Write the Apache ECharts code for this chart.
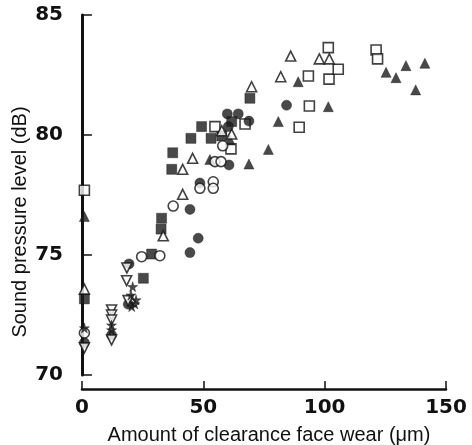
<!DOCTYPE html>
<html><head><meta charset="utf-8">
<script src="https://cdn.jsdelivr.net/npm/echarts@6/dist/echarts.min.js"></script>
<style>html,body{margin:0;padding:0;background:#fff}#c{width:472px;height:445px}</style>
</head><body><div id="c"></div>
<script>
// Data: [wear (µm), sound pressure level (dB)]
const filledSquare = [[1,73.17],[25.3,74.03],[28.7,75.04],[32.6,76.08],[32.8,76.53],[37.0,78.57],[37.4,79.26],[44.9,79.86],[49.3,80.35],[53.2,79.86],[57.6,79.96],[61.7,80.56],[69.2,81.53]];
const openSquare = [[1,77.7],[54.8,80.35],[61.4,79.42],[67.2,80.46],[89.5,80.32],[93.7,81.21],[93.3,82.46],[101.8,82.33],[101.5,83.64],[105.6,82.74],[121.2,83.54],[121.8,83.17]];
const filledTriangle = [[1,76.6],[52.7,78.98],[61,79.79],[68.8,78.79],[76.8,79.4],[80.9,80.56],[89.1,82.22],[101.5,81.18],[125.3,82.61],[129.4,82.39],[133.5,82.89],[137.5,81.88],[141.3,82.99]];
const openTriangle = [[1,73.58],[33.5,75.8],[41.5,77.53],[41.5,78.57],[45.6,79.03],[57.6,80.18],[61.7,80.04],[69.9,82.01],[81.9,82.43],[86.0,83.29],[97.8,83.17],[101.9,83.17]];
const filledCircle = [[1,71.35],[12.2,71.67],[19.4,74.63],[19.1,72.95],[44.5,75.1],[47.9,75.7],[44.5,76.9],[48.6,78.0],[60.6,78.75],[60.3,80.35],[59.9,80.88],[64.4,80.88],[68.8,80.58],[84.3,81.24]];
const openCircle = [[1,71.75],[24.6,74.93],[32.1,74.97],[37.6,77.04],[48.6,77.78],[54.1,78.05],[54.1,77.78],[54.8,78.89],[57.3,78.89],[58,79.55]];
const openInvTriangle = [[1,71.13],[12.2,72.71],[12.2,72.5],[12.2,72.29],[12.2,71.46],[18.5,74.46],[18.4,73.93],[19,73.1]];
const filledStar = [[1,71.96],[12.2,72.08],[12.2,71.88],[20.9,73.68],[20.2,73.33],[22.3,73.13],[21.8,72.96],[20.5,72.85]];
const xTicks = [0,50,100,150];
const yTicks = [70,75,80,85];
const xTitle = 'Amount of clearance face wear (μm)';
const yTitle = 'Sound pressure level (dB)';

const INK = '#111';
const STAR = 'path://M50,0 L61,35 L98,35 L68,57 L79,91 L50,70 L21,91 L32,57 L2,35 L39,35 Z';
function mk(data, symbol, filled, size, rot) {
  return {
    type: 'scatter', xAxisIndex: 0, yAxisIndex: 0, data: data,
    symbol: symbol, symbolSize: size, symbolRotate: rot || 0,
    itemStyle: filled ? {color: '#1c1c1c', borderColor: INK, borderWidth: 0.5}
                      : {color: '#fff', borderColor: INK, borderWidth: 1.6},
    emphasis: {disabled: true}, animation: false
  };
}
const lblFont = {fontFamily: 'DejaVu Sans', fontWeight: 'bold', fontSize: 20, color: INK};
const chart = echarts.init(document.getElementById('c'), null, {renderer: 'canvas'});
chart.setOption({
  backgroundColor: '#fff',
  animation: false,
  grid: [
    {left: 72, right: 26, top: 15, bottom: 70},
    {left: 82, right: 26, top: 300, bottom: 56}
  ],
  xAxis: [
    {gridIndex: 0, type: 'value', min: -4.1, max: 150, show: false},
    {gridIndex: 1, type: 'value', min: xTicks[0], max: xTicks[xTicks.length-1], interval: 50,
     axisLine: {lineStyle: {color: INK, width: 2.5}},
     axisTick: {inside: true, length: 8, lineStyle: {color: INK, width: 1.5}},
     splitLine: {show: false},
     axisLabel: Object.assign({margin: 9}, lblFont)}
  ],
  yAxis: [
    {gridIndex: 0, type: 'value', min: yTicks[0], max: yTicks[yTicks.length-1], interval: 5,
     axisLine: {lineStyle: {color: INK, width: 3}},
     axisTick: {inside: true, length: 10, lineStyle: {color: INK, width: 1.5}},
     splitLine: {show: false},
     axisLabel: Object.assign({margin: 9}, lblFont)},
    {gridIndex: 1, type: 'value', show: false}
  ],
  graphic: [
    {type: 'text', x: 269, y: 435, style: {text: xTitle, font: '20px "Liberation Sans"', fill: INK, textAlign: 'center', textVerticalAlign: 'middle'}},
    {type: 'text', x: 20, y: 222, rotation: Math.PI/2, style: {text: yTitle, font: '20px "Liberation Sans"', fill: INK, textAlign: 'center', textVerticalAlign: 'middle'}}
  ],
  series: [
    mk(filledSquare, 'rect', true, 10),
    mk(openSquare, 'rect', false, 10),
    mk(filledTriangle, 'triangle', true, 10),
    mk(openTriangle, 'triangle', false, 10),
    mk(filledCircle, 'circle', true, 10),
    mk(openCircle, 'circle', false, 10),
    mk(openInvTriangle, 'triangle', false, 10, 180),
    mk(filledStar, STAR, true, 10)
  ]
});
</script></body></html>
